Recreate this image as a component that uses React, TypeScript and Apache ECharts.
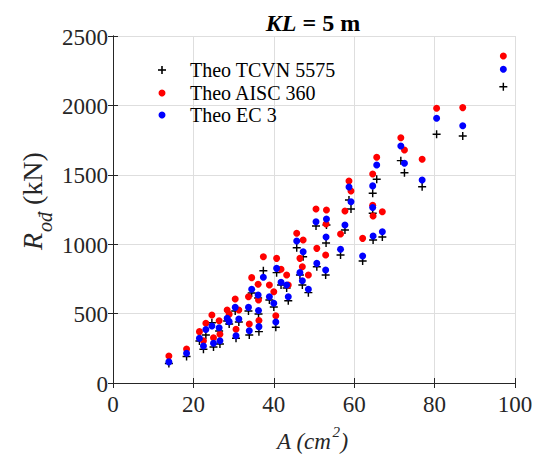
import React, { useEffect, useRef } from "react";
import * as echarts from "echarts";

const seriesNames = ["Theo TCVN 5575", "Theo AISC 360", "Theo EC 3"];
const xTicks = [0, 20, 40, 60, 80, 100];
const yTicks = [0, 500, 1000, 1500, 2000, 2500];

const areas = [
  13.9, 18.3, 21.5, 22.5, 23.1, 24.6, 25.0, 26.4, 26.6, 28.4, 28.9, 30.4, 30.6, 31.3,
  33.7, 33.9, 34.5, 36.1, 36.2, 36.3, 37.4, 38.9, 40.0, 40.5, 40.7, 41.8, 43.2, 43.6,
  45.7, 46.5, 47.1, 47.3, 48.6, 50.5, 50.7, 52.9, 53.0, 53.1, 56.6, 57.7, 58.7, 59.2,
  62.1, 64.6, 64.6, 64.7, 65.6, 67.0, 71.6, 72.5, 76.9, 80.5, 87.0, 97.1,
];
const tcvn = [
  140, 191, 303, 243, 346, 434, 259, 375, 281, 447, 425, 519, 322, 440,
  519, 346, 648, 612, 497, 370, 809, 598, 548, 401, 795, 706, 684, 593,
  975, 778, 706, 910, 651, 1131, 838, 778, 1009, 1138, 922, 1102, 1319, 1254,
  879, 1367, 1223, 1030, 1468, 1052, 1602, 1515, 1414, 1792, 1780, 2135,
];
const aisc = [
  195, 245, 370, 305, 430, 490, 326, 449, 351, 526, 495, 605, 387, 526,
  622, 425, 759, 712, 598, 450, 910, 706, 658, 485, 898, 819, 778, 706,
  1079, 898, 838, 1030, 778, 1254, 970, 922, 1146, 1246, 1074, 1239, 1455, 1383,
  1042, 1506, 1280, 1203, 1626, 1234, 1767, 1679, 1612, 1979, 1984, 2356,
];
const ec3 = [
  152, 214, 322, 267, 385, 411, 286, 398, 305, 466, 442, 545, 341, 461,
  545, 377, 675, 634, 522, 406, 762, 622, 574, 440, 826, 726, 706, 622,
  1023, 795, 737, 946, 675, 1162, 862, 814, 1052, 1182, 963, 1138, 1412, 1306,
  915, 1420, 1265, 1059, 1571, 1090, 1708, 1583, 1463, 1907, 1854, 2260,
];

const FONT = "Liberation Serif";
const PLUS = "path://M4.1,0H5.9V4.1H10V5.9H5.9V10H4.1V5.9H0V4.1H4.1Z";
const AXIS_COLOR = "#262626";
const GRID_COLOR = "#dedede";
const seriesColors = ["#000000", "#ff0000", "#0000ff"];

export default function App() {
  const ref = useRef<HTMLDivElement>(null);

  useEffect(() => {
    document.body.style.margin = "0";
    if (!ref.current) return;
    const chart = echarts.init(ref.current, undefined, { renderer: "svg" });
    const pts = (vals: number[]) => areas.map((a, i) => [a, vals[i]]);
    const axisCommon = {
      min: 0,
      axisLine: { show: true, lineStyle: { color: AXIS_COLOR, width: 1 } },
      axisTick: { show: true, inside: true, length: 5, lineStyle: { color: AXIS_COLOR } },
      axisLabel: { show: false },
    };
    chart.setOption({
      animation: false,
      backgroundColor: "#ffffff",
      grid: { left: 113, right: 25, top: 36, bottom: 74, containLabel: false, outerBoundsMode: "none" },
      xAxis: [
        {
          ...axisCommon,
          type: "value",
          max: 100,
          interval: 20,
          position: "bottom",
          splitLine: { show: true, lineStyle: { color: GRID_COLOR, width: 1 } },
        },
        { ...axisCommon, type: "value", max: 100, interval: 20, position: "top", splitLine: { show: false } },
      ],
      yAxis: [
        {
          ...axisCommon,
          type: "value",
          max: 2500,
          interval: 500,
          position: "left",
          splitLine: { show: true, lineStyle: { color: GRID_COLOR, width: 1 } },
        },
        { ...axisCommon, type: "value", max: 2500, interval: 500, position: "right", splitLine: { show: false } },
      ],
      series: [
        {
          name: seriesNames[0],
          type: "scatter",
          xAxisIndex: 0,
          yAxisIndex: 0,
          symbol: PLUS,
          symbolSize: 8,
          itemStyle: { color: seriesColors[0], opacity: 1 },
          data: pts(tcvn),
        },
        {
          name: seriesNames[1],
          type: "scatter",
          xAxisIndex: 0,
          yAxisIndex: 0,
          symbol: "circle",
          symbolSize: 7,
          itemStyle: { color: seriesColors[1], opacity: 1 },
          data: pts(aisc),
        },
        {
          name: seriesNames[2],
          type: "scatter",
          xAxisIndex: 0,
          yAxisIndex: 0,
          symbol: "circle",
          symbolSize: 7,
          itemStyle: { color: seriesColors[2], opacity: 1 },
          data: pts(ec3),
        },
      ],
    });

    // Texts drawn as graphic elements with separate font properties,
    // positioned through the axes' own scales.
    const txt = (
      text: string,
      x: number,
      y: number,
      size: number,
      align: string,
      opts: { italic?: boolean; bold?: boolean; fill?: string } = {}
    ) => ({
      type: "text",
      x,
      y,
      silent: true,
      style: {
        text,
        fontFamily: FONT,
        fontSize: size,
        fontStyle: opts.italic ? "italic" : "normal",
        fontWeight: opts.bold ? "bold" : "normal",
        fill: opts.fill || AXIS_COLOR,
        align,
        verticalAlign: "middle",
      },
    });
    const elements: any[] = [];
    const xAxisY = chart.convertToPixel({ yAxisIndex: 0 }, 0) as number;
    const yAxisX = chart.convertToPixel({ xAxisIndex: 0 }, 0) as number;
    xTicks.forEach((v) => {
      const px = chart.convertToPixel({ xAxisIndex: 0 }, v) as number;
      elements.push(txt(String(v), px, xAxisY + 21, 23, "center"));
    });
    yTicks.forEach((v) => {
      const py = chart.convertToPixel({ yAxisIndex: 0 }, v) as number;
      elements.push(txt(String(v), yAxisX - 5, py + 1, 23, "right"));
    });

    // Title
    elements.push(txt("KL", 296.5, 23, 24, "right", { italic: true, bold: true, fill: "#000" }));
    elements.push(txt(" = 5 m", 296.5, 23, 24, "left", { bold: true, fill: "#000" }));

    // x-axis name
    elements.push(txt("A (cm", 277, 441, 23, "left", { italic: true }));
    elements.push(txt("2", 332.5, 432, 15, "left", { italic: true }));
    elements.push(txt(")", 340.5, 441, 23, "left", { italic: true }));

    // y-axis name (rotated)
    elements.push({
      type: "group",
      x: 32,
      y: 250,
      rotation: Math.PI / 2,
      children: [
        txt("R", 0, 0, 28, "left", { italic: true }),
        txt("ođ", 18, 13, 20, "left", { italic: true }),
        txt("(kN)", 45, 0, 28, "left"),
      ],
    });

    // Legend
    const legendX = 162;
    const legendY = [70, 93, 115];
    seriesNames.forEach((name, i) => {
      const cy = legendY[i];
      if (i === 0) {
        elements.push({ type: "rect", shape: { x: legendX - 4, y: cy - 0.8, width: 8, height: 1.6 }, style: { fill: seriesColors[0] } });
        elements.push({ type: "rect", shape: { x: legendX - 0.8, y: cy - 4, width: 1.6, height: 8 }, style: { fill: seriesColors[0] } });
      } else {
        elements.push({ type: "circle", shape: { cx: legendX, cy, r: 3.5 }, style: { fill: seriesColors[i] } });
      }
      elements.push(txt(name, 190, cy, 20, "left", { fill: "#000" }));
    });

    chart.setOption({ graphic: elements });
    return () => chart.dispose();
  }, []);

  return <div ref={ref} style={{ width: 540, height: 457 }} />;
}
